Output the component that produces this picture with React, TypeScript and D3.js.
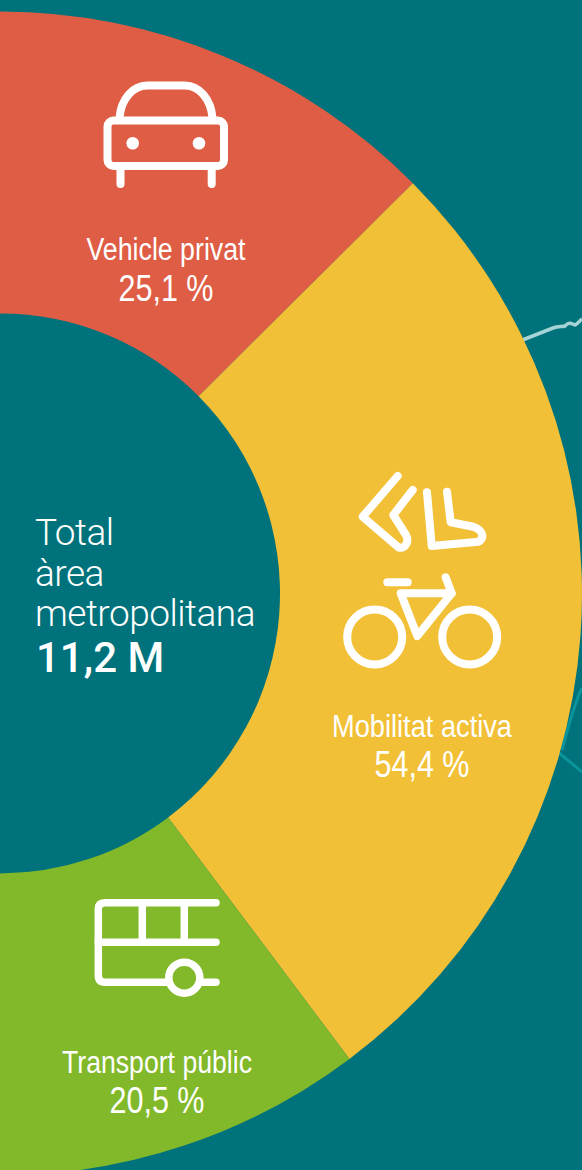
import React from "react";
import * as d3 from "d3";

const categories = ["Vehicle privat", "Mobilitat activa", "Transport públic"];
const percentages = [25.1, 54.4, 20.5];
const percentLabels = ["25,1 %", "54,4 %", "20,5 %"];
const sliceColors = ["#de5d44", "#f2c037", "#82b92a"];
const centerLines = ["Total", "àrea", "metropolitana"];
const centerValue = "11,2 M";

const W = 582;
const H = 1170;
const BG = "#00727b";
const FONT = "'Liberation Sans', Arial, sans-serif";

const labelPos = [
  { x: 166, y1: 260, y2: 301, w1: 159, w2: 95 },
  { x: 422, y1: 737, y2: 777, w1: 180, w2: 95 },
  { x: 157, y1: 1073, y2: 1113, w1: 190, w2: 95 },
];

function CarIcon() {
  return (
    <g fill="none" stroke="#fff" strokeWidth={8} strokeLinecap="round" strokeLinejoin="round">
      <rect x={107.5} y={120.5} width={116.5} height={45.5} rx={6} />
      <path d="M119.5 118C121 99 133 85.5 147 85.5H185C199 85.5 211 99 212.5 118" />
      <path d="M120.5 168V184M211.7 168V184" />
      <circle cx={132.7} cy={143.3} r={6.3} fill="#fff" stroke="none" />
      <circle cx={199} cy={143.3} r={6.3} fill="#fff" stroke="none" />
    </g>
  );
}

function WalkBikeIcon() {
  return (
    <g fill="none" stroke="#fff" strokeWidth={8} strokeLinecap="round" strokeLinejoin="round">
      <path d="M397.7 476L362.7 516.7L398.3 547.3C404 549 410 543 406 535L393.3 515L412.7 490" />
      <path d="M427 492.3L431.7 546L478.3 541.7C485 538 483 530 473.3 526.7L450.7 522.3L447 491.7" />
      <circle cx={374.7} cy={637} r={27.5} />
      <circle cx={469.7} cy={637} r={27.5} />
      <path d="M400.7 593.3L417.3 636L451.7 593.3ZM451.7 593.3L445.7 577.3M387.3 582.3H407.7" />
    </g>
  );
}

function BusIcon() {
  return (
    <g fill="none" stroke="#fff" strokeWidth={7.5} strokeLinecap="round" strokeLinejoin="round">
      <path d="M216 902.7H105Q98.3 902.7 98.3 909.3V975Q98.3 982.3 105 982.3H167.3" />
      <path d="M98.3 942.3H216M142.3 902.7V942.3M184.3 902.7V942.3M201.7 982.3H216" />
      <circle cx={184.3} cy={977.7} r={15.5} />
    </g>
  );
}

export default function App() {
  const cx = 0;
  const cy = 593.5;
  const pie = d3.pie<number>().sort(null).startAngle(0).endAngle(Math.PI);
  const arc = d3.arc<d3.PieArcDatum<number>>().innerRadius(280).outerRadius(582);
  const arcs = pie(percentages);

  return (
    <svg
      width={W}
      height={H}
      viewBox={`0 0 ${W} ${H}`}
      style={{ position: "absolute", left: 0, top: 0, display: "block" }}
    >
      <rect width={W} height={H} fill={BG} />
      <path d="M520 341L553 328C558 326 562 327 565 326C569 321 572 324 575 325C578 324 580 320 582 319" fill="none" stroke="#a6d3d6" strokeWidth={3.5} />
      <path d="M582 688C576 700 570 720 562 750" fill="none" stroke="#0a949c" strokeWidth={3} />
      <path d="M558 752L582 772" fill="none" stroke="#0a949c" strokeWidth={3} />
      <g transform={`translate(${cx},${cy})`}>
        {arcs.map((a, i) => (
          <path key={categories[i]} d={arc(a) ?? ""} fill={sliceColors[i]} />
        ))}
      </g>
      <CarIcon />
      <WalkBikeIcon />
      <BusIcon />
      {categories.map((c, i) => (
        <g key={c} fill="#fff" fontFamily={FONT} textAnchor="middle">
          <text x={labelPos[i].x} y={labelPos[i].y1} fontSize={31} textLength={labelPos[i].w1} lengthAdjust="spacingAndGlyphs">{c}</text>
          <text x={labelPos[i].x} y={labelPos[i].y2} fontSize={36} textLength={labelPos[i].w2} lengthAdjust="spacingAndGlyphs">{percentLabels[i]}</text>
        </g>
      ))}
      <g fill="#fff" fontFamily="Roboto, sans-serif" fontWeight={300} fontSize={37}>
        {centerLines.map((t, i) => (
          <text key={t} x={35} y={545 + i * 40.5} letterSpacing={-0.5}>{t}</text>
        ))}
      </g>
      <text x={36} y={672} fill="#fff" fontFamily="Roboto, sans-serif" fontWeight={500} fontSize={42}>{centerValue}</text>
    </svg>
  );
}
